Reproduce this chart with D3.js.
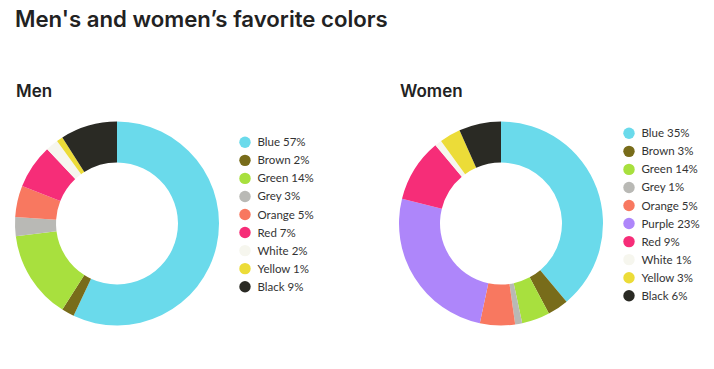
<!DOCTYPE html>
<html>
<head>
<meta charset="utf-8">
<script src="https://cdn.jsdelivr.net/npm/d3@7"></script>
<style>
  body { margin: 0; background: #fff; }
</style>
</head>
<body>
<script>
// colour categories and their fills
const colorFills = {
  Blue: '#6adaeb', Brown: '#786c1a', Green: '#a8e03e', Grey: '#b9b9b5', Orange: '#f87860',
  Purple: '#ae86fa', Red: '#f62d78', White: '#f6f6ee', Yellow: '#ecdc38', Black: '#2a2a24'
};

// men
const menCategories = ['Blue', 'Brown', 'Green', 'Grey', 'Orange', 'Red', 'White', 'Yellow', 'Black'];
const menValues = [57, 2, 14, 3, 5, 7, 2, 1, 9];
const menLegendPct = [57, 2, 14, 3, 5, 7, 2, 1, 9];

// women - the ring is drawn with green at 4 (that's what the picture shows),
// the legend prints 14%
const womenCategories = ['Blue', 'Brown', 'Green', 'Grey', 'Orange', 'Purple', 'Red', 'White', 'Yellow', 'Black'];
const womenValues = [35, 3, 4, 1, 5, 23, 9, 1, 3, 6];
const womenLegendPct = [35, 3, 14, 1, 5, 23, 9, 1, 3, 6];

const W = 714, H = 369;

let svg = d3.select('body')
  .append('svg')
  .attr('width', W)
  .attr('height', H);

svg.append('text')
  .attr('x', 15)
  .attr('y', 27)
  .attr('font-family', 'Inter, Roboto, sans-serif')
  .attr('font-weight', 600)
  .attr('font-size', 22.2)
  .attr('fill', '#222')
  .text("Men's and women\u2019s favorite colors");

const outerR = 102, innerR = 61;

const pie = d3.pie().sort(null).value(d => d.value);
const arc = d3.arc().innerRadius(innerR).outerRadius(outerR);

function drawPanel(title, titleX, cx, cy, cats, vals, pcts, legX, legY) {
  let g = svg.append('g');

  g.append('text')
    .attr('x', titleX)
    .attr('y', 97)
    .attr('font-family', 'Inter, Roboto, sans-serif')
    .attr('font-weight', 600)
    .attr('font-size', 17)
    .attr('fill', '#222')
    .text(title);

  let data = cats.map((c, i) => ({ name: c, value: vals[i], pct: pcts[i] }));

  g.append('g')
    .attr('transform', 'translate(' + cx + ',' + cy + ')')
    .selectAll('path')
    .data(pie(data))
    .enter()
    .append('path')
    .attr('d', arc)
    .attr('fill', d => colorFills[d.data.name]);

  // legend rows
  let y = d3.scalePoint().domain(cats).range([legY, legY + 18.05 * (cats.length - 1)]);

  let rows = g.selectAll('g.row')
    .data(data)
    .enter()
    .append('g')
    .attr('class', 'row')
    .attr('transform', d => 'translate(' + legX + ',' + y(d.name) + ')');

  rows.append('circle')
    .attr('r', 5.7)
    .attr('fill', d => colorFills[d.name]);

  rows.append('text')
    .attr('x', 12.5)
    .attr('dy', '0.35em')
    .attr('font-family', 'Lato, sans-serif')
    .attr('font-size', 11.5)
    .attr('fill', '#333')
    .text(d => d.name + ' ' + d.pct + '%');
}

drawPanel('Men', 16, 117, 223.5, menCategories, menValues, menLegendPct, 245, 142.3);
drawPanel('Women', 400, 501, 223.5, womenCategories, womenValues, womenLegendPct, 629, 133.3);
</script>
</body>
</html>
